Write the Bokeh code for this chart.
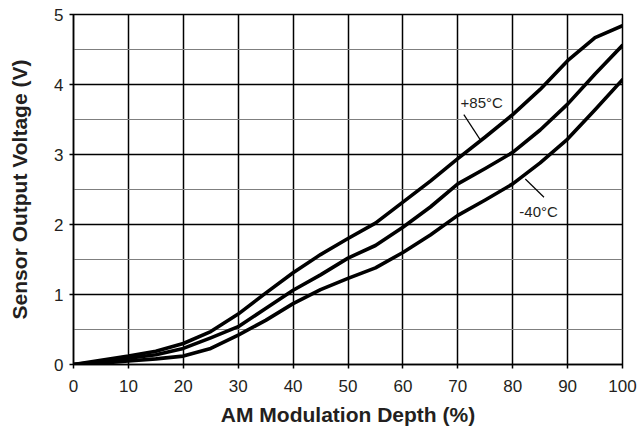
from bokeh.plotting import figure
from bokeh.models import Range1d, FixedTicker
from bokeh.embed import file_html
from bokeh.resources import INLINE
from bokeh.core.properties import value

depth = [0, 5, 10, 15, 20, 25, 30, 35, 40, 45, 50, 55, 60, 65, 70, 75, 80, 85, 90, 95, 100]
v_hot = [0, 0.06, 0.12, 0.19, 0.30, 0.47, 0.72, 1.02, 1.31, 1.57, 1.80, 2.02, 2.32, 2.62, 2.94, 3.25, 3.57, 3.93, 4.34, 4.67, 4.84]
v_room = [0, 0.04, 0.09, 0.14, 0.23, 0.38, 0.54, 0.80, 1.06, 1.28, 1.52, 1.70, 1.96, 2.25, 2.58, 2.80, 3.03, 3.35, 3.72, 4.15, 4.56]
v_cold = [0, 0.02, 0.05, 0.08, 0.12, 0.23, 0.42, 0.63, 0.87, 1.07, 1.23, 1.38, 1.60, 1.85, 2.13, 2.35, 2.58, 2.88, 3.22, 3.64, 4.07]

x_ticks = [0, 10, 20, 30, 40, 50, 60, 70, 80, 90, 100]
y_ticks = [0, 1, 2, 3, 4, 5]
y_minor = [0.5, 1.5, 2.5, 3.5, 4.5]

labels = ["+85°C", "-40°C"]
label_x = [70.5, 81.2]
label_y = [3.75, 2.18]
lead_x0 = [71.1, 82.3]
lead_y0 = [3.57, 2.65]
lead_x1 = [74.1, 85.7]
lead_y1 = [3.21, 2.39]

FONT = "Liberation Sans"
TXT = "#231f20"

p = figure(width=638, height=430, output_backend="svg", toolbar_location=None,
           x_range=Range1d(0, 100), y_range=Range1d(0, 5),
           min_border_left=73, min_border_right=16, min_border_top=14, min_border_bottom=66)

p.background_fill_color = "white"
p.border_fill_color = "white"
p.outline_line_color = "black"
p.outline_line_width = 1.5

p.xaxis.ticker = FixedTicker(ticks=x_ticks)
p.yaxis.ticker = FixedTicker(ticks=y_ticks, minor_ticks=y_minor)

p.xgrid.grid_line_color = "black"
p.xgrid.grid_line_width = 1.5
p.ygrid.grid_line_color = "black"
p.ygrid.grid_line_width = 1.5
p.ygrid.minor_grid_line_color = "#7f7f7f"
p.ygrid.minor_grid_line_width = 1.2

for ax in (p.xaxis, p.yaxis):
    ax.axis_line_color = "black"
    ax.axis_line_width = 1.5
    ax.major_tick_line_color = "black"
    ax.major_tick_line_width = 1.5
    ax.major_tick_in = 0
    ax.major_tick_out = 4
    ax.minor_tick_line_color = None
    ax.major_label_text_font = FONT
    ax.major_label_text_font_size = "17px"
    ax.major_label_text_color = TXT
    ax.axis_label_text_font = FONT
    ax.axis_label_text_font_size = "21px"
    ax.axis_label_text_font_style = "bold"
    ax.axis_label_text_color = TXT

p.xaxis.axis_label = "AM Modulation Depth (%)"
p.yaxis.axis_label = "Sensor Output Voltage (V)"
p.xaxis.major_label_standoff = 11
p.xaxis.axis_label_standoff = 8
p.yaxis.major_label_standoff = 6
p.yaxis.axis_label_standoff = 20

for ys in (v_hot, v_room, v_cold):
    p.line(depth, ys, line_color="black", line_width=3.6, line_join="round", line_cap="round")

p.segment(x0=lead_x0, y0=lead_y0, x1=lead_x1, y1=lead_y1, line_color="black", line_width=1.2)
p.text(x=label_x, y=label_y, text=labels, text_font=value(FONT), text_font_size="15px",
       text_color=TXT, text_align="left", text_baseline="middle")

open("out.html", "w").write(file_html(p, INLINE))
